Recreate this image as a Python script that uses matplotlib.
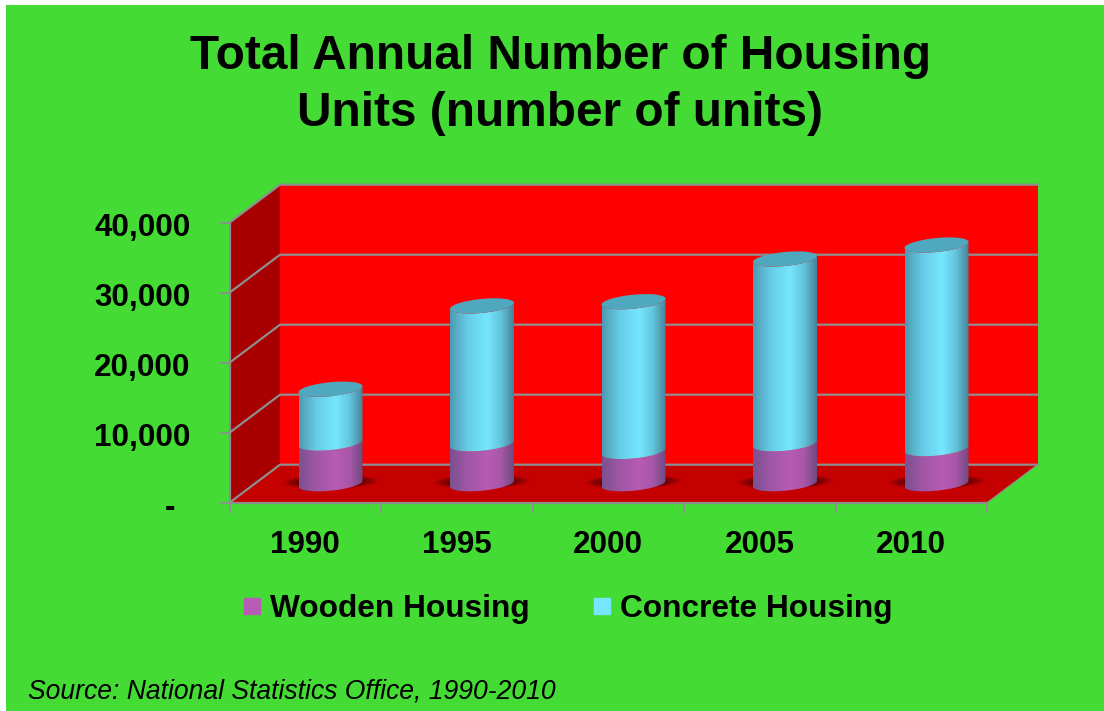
import numpy as np
import matplotlib
matplotlib.use('Agg')
import matplotlib.pyplot as plt
from matplotlib.colors import to_rgb
from matplotlib.lines import Line2D
from matplotlib.patches import Polygon, Rectangle
from matplotlib.transforms import ScaledTranslation

plt.rcParams['font.family'] = ['Liberation Sans', 'DejaVu Sans']

# values
years = ['1990', '1995', '2000', '2005', '2010']
wooden = [5800, 5700, 4600, 5700, 5000]
concrete = [7700, 19700, 21400, 26400, 29100]
y_ticks = [0, 10000, 20000, 30000, 40000]
y_labels = ['-', '10,000', '20,000', '30,000', '40,000']

W, H = 1104, 711
GREEN = '#44DB35'
GRID = '#8E8E8E'
WOOD_STOPS = ['#7A5290', '#A056A6', '#B65CB4', '#A857A8', '#6E4A80']
CONC_STOPS = ['#4E9AB2', '#66CCE6', '#76E6FF', '#62C4DC', '#458498']

fig = plt.figure(figsize=(W / 100, H / 100), dpi=100, facecolor='white')
fig.patches.append(Rectangle((6 / W, 0), 1 - 6 / W, 1 - 5 / H, transform=fig.transFigure,
                             facecolor=GREEN, edgecolor='none', zorder=-5))

# axes box is the front plane of the 3d chart
ax = fig.add_axes([229.5 / W, 1 - 502.7 / H, 757.5 / W, 280 / H])
ax.patch.set_visible(False)
n = len(years)
ax.set_xlim(0, n)
ax.set_ylim(0, 40000)

# conversion from pixels to data units
px_x = n / 757.5
px_y = 40000 / 280
depth_x = 50.5 * px_x
depth_y = 38 * px_y


def flat(pts, color, z):
    ax.add_patch(Polygon(pts, closed=True, facecolor=color, edgecolor='none', zorder=z, clip_on=False))


flat([(depth_x, depth_y), (n + depth_x, depth_y), (n + depth_x, 40000 + depth_y), (depth_x, 40000 + depth_y)], '#FF0000', 1)
flat([(0, 0), (depth_x, depth_y), (depth_x, 40000 + depth_y), (0, 40000)], '#A80000', 1)
flat([(0, 0), (n, 0), (n + depth_x, depth_y), (depth_x, depth_y)], '#C40000', 1)

for v in y_ticks:
    ax.plot([0, depth_x, n + depth_x], [v, v + depth_y, v + depth_y], color=GRID, lw=1.6, zorder=2, clip_on=False)
ax.plot([n, n + depth_x], [0, depth_y], color=GRID, lw=0.8, zorder=2, clip_on=False)

# cylinder ellipse, slightly tilted
a = 32 * px_x
tilt = 3.0 * px_y
b = 7.0 * px_y


def arc(cx, cy, t):
    return np.column_stack([cx + a * np.cos(t), cy + tilt * np.cos(t) + b * np.sin(t)])


def gradient(stops):
    cols = np.array([to_rgb(c) for c in stops])
    pos = [0, 0.27, 0.58, 0.8, 1]
    s = np.linspace(0, 1, 128)
    return np.stack([np.interp(s, pos, cols[:, i]) for i in range(3)], axis=1)[None, :, :]


def segment(cx, low, high, stops, z):
    front = np.linspace(np.pi, 2 * np.pi, 60)
    pts = np.vstack([arc(cx, low, front), arc(cx, high, front[::-1])])
    shape = Polygon(pts, closed=True, transform=ax.transData, facecolor='none', edgecolor='none')
    ax.add_patch(shape)
    im = ax.imshow(gradient(stops), extent=[cx - a, cx + a, low - 2 * b, high + 2 * b],
                   aspect='auto', zorder=z, interpolation='bilinear')
    im.set_clip_path(shape)


t_full = np.linspace(0, 2 * np.pi, 90)
for i in range(n):
    cx = i + 0.5 + depth_x / 2
    base = depth_y / 2
    # floor shadow
    for grow, alpha in [(1.5, 0.15), (1.38, 0.25), (1.25, 0.35), (1.1, 0.4)]:
        shadow = np.column_stack([cx + a * grow * np.cos(t_full),
                                  base + 2 * px_y + 0.3 * tilt * np.cos(t_full) + 0.95 * b * np.sin(t_full)])
        flat(shadow, (0.35, 0, 0, alpha), 3)
    top_wood = base + wooden[i]
    top_conc = top_wood + concrete[i]
    segment(cx, base, top_wood, WOOD_STOPS, 4)
    segment(cx, top_wood, top_conc, CONC_STOPS, 5)
    flat(arc(cx, top_conc, t_full), '#50A8BE', 6)

for s in ['top', 'right']:
    ax.spines[s].set_visible(False)
for s in ['left', 'bottom']:
    ax.spines[s].set_color(GRID)
    ax.spines[s].set_linewidth(1.6)
    ax.spines[s].set_zorder(2)

ax.set_yticks(y_ticks)
ax.set_yticklabels(y_labels, fontsize=22.6, fontweight='bold', color='black')
ax.tick_params(axis='y', length=7.2, width=1.3, color=GRID, pad=21)
ax.set_xticks(range(n + 1))
ax.set_xticklabels([])
ax.set_xticks(np.arange(n) + 0.5, labels=years, minor=True)
ax.tick_params(axis='x', which='major', length=7.2, width=1.3, color=GRID)
ax.tick_params(axis='x', which='minor', length=0, pad=19.5, labelsize=22.6)
for lab in ax.get_xticklabels(minor=True):
    lab.set_fontweight('bold')

# y labels sit a little below their ticks, dash of the zero label further in
for k, lab in enumerate(ax.get_yticklabels()):
    shift_x = -15 / 100 if k == 0 else 0
    lab.set_transform(lab.get_transform() + ScaledTranslation(shift_x, -2 / 100, fig.dpi_scale_trans))

fig.text(560 / W, 1 - 85 / H, 'Total Annual Number of Housing\nUnits (number of units)', ha='center', va='center',
         fontsize=34.4, fontweight='bold', color='black', linespacing=1.32)

handles = [Line2D([], [], linestyle='none', marker='s', markersize=12, color=WOOD_STOPS[2]),
           Line2D([], [], linestyle='none', marker='s', markersize=12, color=CONC_STOPS[2])]
fig.legend(handles, ['Wooden Housing', 'Concrete Housing'], ncols=2, frameon=False, loc='center',
           bbox_to_anchor=(566 / W, 1 - 609 / H), prop={'size': 22.8, 'weight': 'bold'},
           handlelength=0.8, handletextpad=0.16, columnspacing=1.88)

fig.text(28 / W, 1 - 699 / H, 'Source: National Statistics Office, 1990-2010', ha='left', va='baseline',
         fontsize=19.1, style='italic', color='black')

fig.savefig('out.png', dpi=100, facecolor=fig.get_facecolor())
